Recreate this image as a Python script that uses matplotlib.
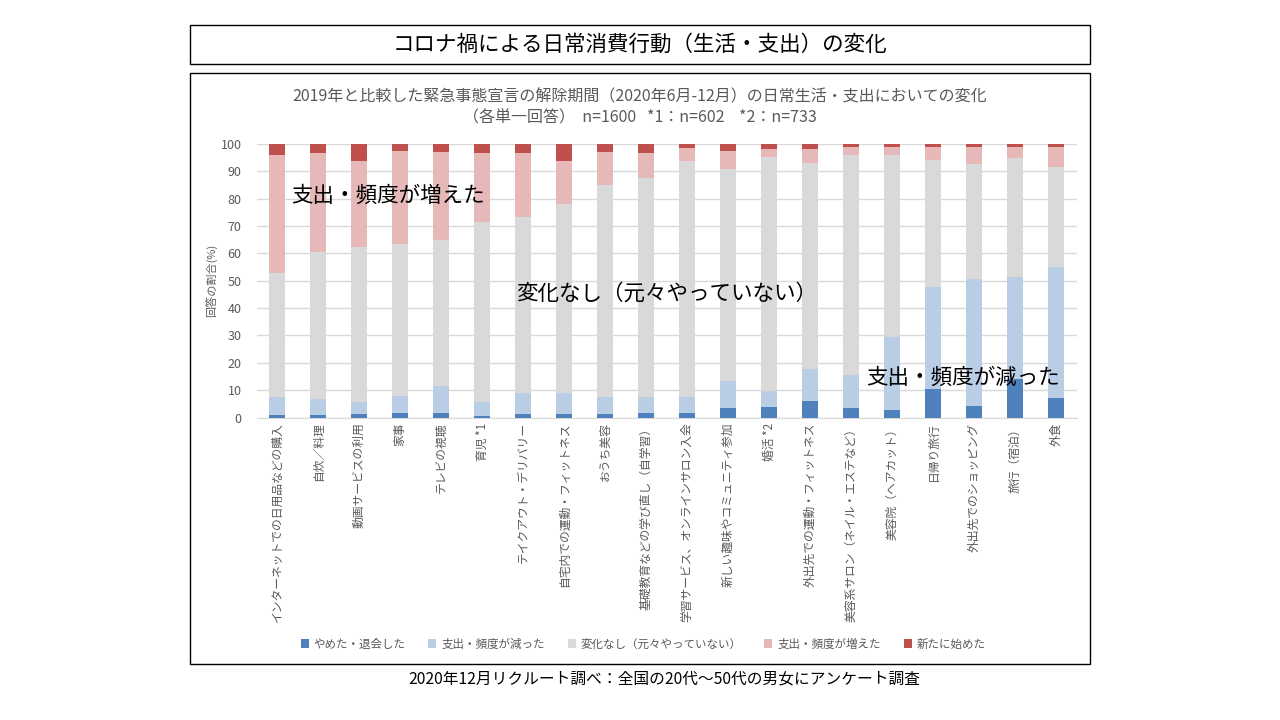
#!/usr/bin/env python3
"""
Stacked 100% bar chart: change in daily consumption behaviour after the state of emergency.
"""
import numpy as np
import matplotlib
matplotlib.use("Agg")
import matplotlib.pyplot as plt
from matplotlib.patches import Rectangle

plt.rcParams["font.family"] = ["Noto Sans CJK JP", "DejaVu Sans"]

categories = [
    "インターネットでの日用品などの購入", "自炊／料理", "動画サービスの利用", "家事",
    "テレビの視聴", "育児 *1", "テイクアウト・デリバリー", "自宅内での運動・フィットネス",
    "おうち美容", "基礎教育などの学び直し（自学習）", "学習サービス、オンラインサロン入会",
    "新しい趣味やコミュニティ参加", "婚活 *2", "外出先での運動・フィットネス",
    "美容系サロン（ネイル・エステなど）", "美容院（ヘアカット）", "日帰り旅行",
    "外出先でのショッピング", "旅行（宿泊）", "外食",
]
quit_vals = [0.9, 0.9, 1.3, 1.8, 1.8, 0.6, 1.4, 1.4, 1.4, 1.8,
             1.8, 3.6, 4.0, 6.2, 3.6, 2.9, 10.5, 4.3, 14.1, 7.2]
decreased = [6.7, 6.0, 4.2, 6.2, 9.8, 5.2, 7.7, 7.7, 6.2, 5.8,
             5.8, 9.9, 5.8, 11.5, 12.1, 26.6, 37.3, 46.2, 37.4, 47.9]
no_change = [45.3, 53.5, 56.7, 55.4, 53.3, 65.6, 64.1, 69.0, 77.4, 80.1,
             86.2, 77.2, 85.3, 75.4, 80.3, 66.5, 46.3, 42.2, 43.3, 36.5]
increased = [43.1, 36.3, 31.5, 34.0, 32.1, 25.3, 23.5, 15.6, 12.1, 9.0,
             4.6, 6.7, 3.0, 5.0, 3.0, 2.8, 4.7, 6.1, 4.0, 7.4]
started = [4.0, 3.3, 6.3, 2.6, 3.0, 3.3, 3.3, 6.3, 2.9, 3.3,
           1.6, 2.6, 1.9, 1.9, 1.0, 1.2, 1.2, 1.2, 1.2, 1.0]

series_labels = ["やめた・退会した", "支出・頻度が減った", "変化なし（元々やっていない）",
                 "支出・頻度が増えた", "新たに始めた"]
colors = ["#4f81bd", "#b9cde5", "#d9d9d9", "#e6b9b8", "#c0504d"]
grey_text = "#595959"

fig = plt.figure(figsize=(12.8, 7.2), dpi=100)

# frames
fig.patches.append(Rectangle((190 / 1280, 1 - 64 / 720), 900 / 1280, 39 / 720,
                             transform=fig.transFigure, fill=False, ec="black", lw=1))
fig.patches.append(Rectangle((190 / 1280, 1 - 664 / 720), 900 / 1280, 591 / 720,
                             transform=fig.transFigure, fill=False, ec="black", lw=1))
fig.text(0.5, 1 - 45 / 720, "コロナ禍による日常消費行動（生活・支出）の変化",
         ha="center", va="center", fontsize=15.5, color="black")

ax = fig.add_axes([256.7 / 1280, 1 - 417.5 / 720, 820 / 1280, 273.5 / 720])
x = np.arange(len(categories))
bottom = np.zeros(len(categories))
for vals, lab, col in zip([quit_vals, decreased, no_change, increased, started],
                          series_labels, colors):
    ax.bar(x, vals, 0.4, bottom=bottom, color=col, label=lab, zorder=3)
    bottom += np.array(vals)

ax.set_xlim(-0.5, len(categories) - 0.5)
ax.set_ylim(0, 100)
ax.set_yticks(range(0, 101, 10))
ax.yaxis.grid(True, color="#d9d9d9", lw=1, zorder=0)
for s in ["top", "right", "left"]:
    ax.spines[s].set_visible(False)
ax.spines["bottom"].set_color("#d9d9d9")
ax.tick_params(axis="both", length=0, colors=grey_text)
ax.tick_params(axis="y", pad=11, labelsize=9)
ax.set_xticks(x)
ax.set_xticklabels(categories, rotation=90, fontsize=8.5, color=grey_text)
ax.set_ylabel("回答の割合(%)", fontsize=8, color=grey_text, labelpad=2)

ax.text(0.34, 81, "支出・頻度が増えた", fontsize=15.5, va="center", ha="left", zorder=5)
ax.text(5.82, 45.2, "変化なし（元々やっていない）", fontsize=15.5, va="center", ha="left", zorder=5)
ax.text(14.36, 14.4, "支出・頻度が減った", fontsize=15.5, va="center", ha="left", zorder=5)

fig.text(0.5, 1 - 97 / 720,
         "2019年と比較した緊急事態宣言の解除期間（2020年6月-12月）の日常生活・支出においての変化",
         ha="center", va="center", fontsize=11.5, color=grey_text)
fig.text(0.5, 1 - 118 / 720, "（各単一回答）  n=1600   *1：n=602    *2：n=733",
         ha="center", va="center", fontsize=11.5, color=grey_text)

ax.legend(loc="center", bbox_to_anchor=(643 / 1280, 1 - 644 / 720), bbox_transform=fig.transFigure,
          ncol=5, frameon=False, fontsize=8.3, handlelength=0.7, handleheight=0.7,
          columnspacing=2.0, handletextpad=0.4, labelcolor=grey_text)

fig.text(664 / 1280, 1 - 679 / 720, "2020年12月リクルート調べ：全国の20代〜50代の男女にアンケート調査",
         ha="center", va="center", fontsize=11.3, color="black")

fig.savefig("out.png", dpi=100)
